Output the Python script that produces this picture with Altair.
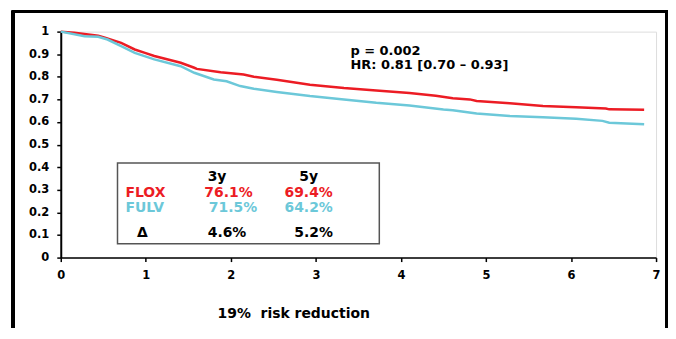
import altair as alt
import pandas as pd

# ---- data ----
time_flox = [0, 0.16, 0.44, 0.52, 0.71, 0.87, 0.99, 1.1, 1.41, 1.57, 1.6, 1.88, 2.15, 2.27,
             2.54, 2.93, 3.33, 3.71, 4.1, 4.41, 4.61, 4.81, 4.89, 5.28, 5.67, 6.06, 6.41, 6.45, 6.86]
surv_flox = [1.0, 0.995, 0.982, 0.973, 0.95, 0.921, 0.906, 0.892, 0.862, 0.84, 0.835, 0.82, 0.81, 0.80,
             0.787, 0.765, 0.75, 0.739, 0.728, 0.716, 0.705, 0.70, 0.693, 0.683, 0.671, 0.665, 0.66, 0.656, 0.654]
time_fulv = [0, 0.28, 0.44, 0.55, 0.71, 0.87, 1.1, 1.41, 1.57, 1.8, 1.95, 2.11, 2.27, 2.54, 2.93,
             3.33, 3.71, 4.1, 4.5, 4.61, 4.89, 5.28, 5.67, 6.06, 6.37, 6.45, 6.86]
surv_fulv = [1.0, 0.98, 0.977, 0.965, 0.936, 0.906, 0.877, 0.847, 0.818, 0.788, 0.78, 0.759, 0.747, 0.733, 0.715,
             0.70, 0.685, 0.673, 0.655, 0.652, 0.638, 0.627, 0.621, 0.614, 0.605, 0.597, 0.59]

arms = ["FLOX", "FULV"]
arm_colors = ["#ec1c24", "#6cc8d9"]

headers = ["3y", "5y"]
flox_rates = ["76.1%", "69.4%"]
fulv_rates = ["71.5%", "64.2%"]
delta_label = "Δ"
deltas = ["4.6%", "5.2%"]
stats_lines = ["p = 0.002", "HR: 0.81 [0.70 – 0.93]"]
x_ticks = [0, 1, 2, 3, 4, 5, 6, 7]
y_ticks = [0, 0.1, 0.2, 0.3, 0.4, 0.5, 0.6, 0.7, 0.8, 0.9, 1]
x_title = "19%\u00a0 risk reduction"

# ---- build tables ----
curves = pd.DataFrame({
    "time": time_flox + time_fulv,
    "surv": surv_flox + surv_fulv,
    "arm": [arms[0]] * len(time_flox) + [arms[1]] * len(time_fulv),
})

# layout helpers (pixel estimates -> data coordinates)
X0, XS, Y0, YS = 61.0, 85.43, 258.0, 227.0
def dx(px):
    return (px - X0) / XS
def dy(py):
    return (Y0 - py) / YS

RED, CYAN, BLACK = arm_colors[0], arm_colors[1], "#000000"
cells = [
    (headers[0], BLACK, 218, 177, "center"),
    (headers[1], BLACK, 310, 177, "center"),
    (arms[0], RED, 126, 193, "left"),
    (flox_rates[0], RED, 229.5, 193, "center"),
    (flox_rates[1], RED, 310, 193, "center"),
    (arms[1], CYAN, 126, 208, "left"),
    (fulv_rates[0], CYAN, 234, 208, "center"),
    (fulv_rates[1], CYAN, 310, 208, "center"),
    (delta_label, BLACK, 143, 233, "center"),
    (deltas[0], BLACK, 228, 233, "center"),
    (deltas[1], BLACK, 315, 233, "center"),
]
cells_df = pd.DataFrame({
    "text": [c[0] for c in cells],
    "color": [c[1] for c in cells],
    "x": [dx(c[2]) for c in cells],
    "y": [dy(c[3]) for c in cells],
    "align": [c[4] for c in cells],
})

FONT = "DejaVu Sans"

X_SCALE = alt.Scale(domain=[0, 7], nice=False, zero=False)
Y_SCALE = alt.Scale(domain=[0, 1], nice=False, zero=False)

X_AXIS = alt.Axis(values=x_ticks, format="d", title=x_title, grid=False,
                  domainColor="#000", domainWidth=1.5, tickColor="#000", tickWidth=1.5,
                  tickSize=4, labelPadding=8, labelFont=FONT, labelFontWeight="bold",
                  labelFontSize=11.5, labelColor="#000", labelFlush=False, labelOverlap=False,
                  titleFont=FONT, titleFontWeight="bold", titleFontSize=14,
                  titleColor="#000", titleX=233.5, titleY=56, titleAlign="center",
                  titleBaseline="middle")
Y_AXIS = alt.Axis(values=y_ticks, format=".1~f", title=None, grid=False,
                  domainColor="#000", domainWidth=2, tickColor="#000", tickWidth=1.5,
                  tickSize=4, labelPadding=8, labelFont=FONT, labelFontWeight="bold",
                  labelFontSize=11.5, labelColor="#000", labelFlush=False, labelOverlap=False)

def X(field):
    return alt.X(field, type="quantitative", scale=X_SCALE, axis=X_AXIS)
def Y(field):
    return alt.Y(field, type="quantitative", scale=Y_SCALE, axis=Y_AXIS)

lines = alt.Chart(curves).mark_line(strokeWidth=2.5, interpolate="linear").encode(
    x=X("time"), y=Y("surv"),
    color=alt.Color("arm:N", scale=alt.Scale(domain=arms, range=arm_colors), legend=None),
)

box_df = pd.DataFrame({"x": [dx(118)], "x2": [dx(381)], "y": [dy(163)], "y2": [dy(244)]})
box = alt.Chart(box_df).mark_rect(fill=None, stroke="#555555", strokeWidth=1.5).encode(
    x=X("x"), x2="x2:Q", y=Y("y"), y2="y2:Q")

table_left = alt.Chart(cells_df[cells_df["align"] == "left"]).mark_text(
    font=FONT, fontWeight="bold", fontSize=14, align="left", baseline="middle").encode(
    x=X("x"), y=Y("y"), text="text:N", color=alt.Color("color:N", scale=None))
table_center = alt.Chart(cells_df[cells_df["align"] == "center"]).mark_text(
    font=FONT, fontWeight="bold", fontSize=14, align="center", baseline="middle").encode(
    x=X("x"), y=Y("y"), text="text:N", color=alt.Color("color:N", scale=None))

stats_df = pd.DataFrame({"text": stats_lines, "x": [dx(352)] * 2, "y": [dy(50), dy(64.5)]})
stats = alt.Chart(stats_df).mark_text(
    font=FONT, fontWeight="bold", fontSize=13, align="left", baseline="middle", color="#000").encode(
    x=X("x"), y=Y("y"), text="text:N")

# outer frame (pixel positions relative to plot area)
frame_left = alt.Chart(curves).mark_rule(color="#000", strokeWidth=2.5).encode(
    x=alt.value(-48), y=alt.value(-20.5), y2=alt.value(300))
frame_top = alt.Chart(curves).mark_rule(color="#000", strokeWidth=2.5).encode(
    x=alt.value(-49), x2=alt.value(610), y=alt.value(-20.5))
frame_right = alt.Chart(curves).mark_rule(color="#000", strokeWidth=2.5).encode(
    x=alt.value(609), y=alt.value(-20.5), y2=alt.value(300))

chart = alt.layer(
    lines, box, table_left, table_center, stats, frame_left, frame_top, frame_right
).properties(
    width=598, height=227,
    autosize=alt.AutoSizeParams(type="none"),
    padding={"left": 53, "top": 23, "right": 12, "bottom": 70},
).configure_view(strokeWidth=0, stroke="transparent").configure(background="white")

chart.save("out.html", embed_options={"renderer": "svg", "actions": False})
